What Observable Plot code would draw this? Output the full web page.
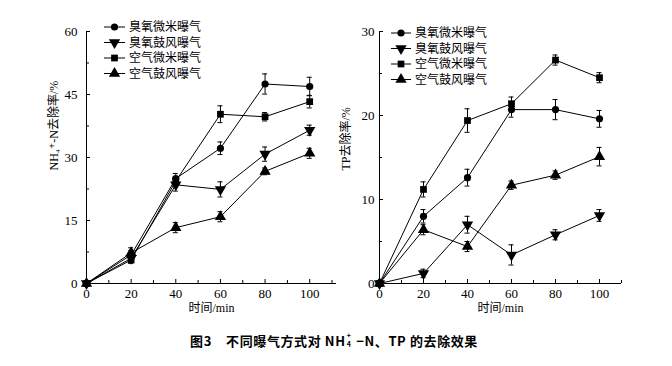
<!DOCTYPE html>
<html><head><meta charset="utf-8">
<script src="https://cdn.jsdelivr.net/npm/d3@7"></script>
<script src="https://cdn.jsdelivr.net/npm/@observablehq/plot@0.6"></script>
<style>
html,body{margin:0;padding:0;background:#fff;}
#wrap{position:relative;width:672px;height:366px;overflow:hidden;}
#charts{display:flex;position:absolute;left:0;top:0;}
#overlay{position:absolute;left:0;top:0;pointer-events:none;}
#caption{position:absolute;left:0;top:331px;width:668px;text-align:center;font-family:"Noto Sans CJK SC","Liberation Sans",sans-serif;font-weight:bold;font-size:13px;letter-spacing:0.6px;color:#000;white-space:pre;}
.ion{display:inline-block;position:relative;width:7px;height:10px;}
.ion .sp{position:absolute;left:1px;top:-4px;font-size:7px;line-height:7px;}
.ion .sb{position:absolute;left:1px;top:5px;font-size:7px;line-height:7px;}
</style>
</head><body>
<div id="wrap">
  <div id="charts"></div>
  <svg id="overlay" width="672" height="366"></svg>
  <div id="caption">图3    不同曝气方式对 NH<span class="ion"><span class="sp">+</span><span class="sb">4</span></span> −N、TP 的去除效果</div>
</div>
<script>
// ---------- data ----------
const times = [0, 20, 40, 60, 80, 100];
const seriesNames = ["臭氧微米曝气", "臭氧鼓风曝气", "空气微米曝气", "空气鼓风曝气"];

// NH4+-N removal (%)
const nh4OzoneMicro    = [0, 6.8, 25.0, 32.2, 47.5, 46.9];
const nh4OzoneMicroErr = [0, 1.0, 1.2, 1.5, 2.4, 2.2];
const nh4OzoneBlow     = [0, 6.0, 23.5, 22.4, 30.8, 36.5];
const nh4OzoneBlowErr  = [0, 0.8, 1.5, 1.8, 1.7, 1.2];
const nh4AirMicro      = [0, 5.6, 24.4, 40.3, 39.7, 43.3];
const nh4AirMicroErr   = [0, 0.8, 1.0, 2.0, 1.0, 1.5];
const nh4AirBlow       = [0, 7.3, 13.3, 15.9, 26.7, 31.0];
const nh4AirBlowErr    = [0, 1.2, 1.2, 1.2, 0.8, 1.2];

// TP removal (%)
const tpOzoneMicro    = [0, 8.0, 12.6, 20.7, 20.7, 19.6];
const tpOzoneMicroErr = [0, 0.8, 1.0, 0.9, 1.2, 1.0];
const tpOzoneBlow     = [0, 1.2, 7.0, 3.4, 5.8, 8.1];
const tpOzoneBlowErr  = [0, 0.5, 1.0, 1.2, 0.6, 0.7];
const tpAirMicro      = [0, 11.2, 19.4, 21.4, 26.6, 24.5];
const tpAirMicroErr   = [0, 0.9, 1.4, 0.8, 0.6, 0.6];
const tpAirBlow       = [0, 6.4, 4.4, 11.7, 12.9, 15.1];
const tpAirBlowErr    = [0, 0.6, 0.6, 0.5, 0.5, 1.1];

const xMajorTicks = [0, 20, 40, 60, 80, 100];
const xMinorTicks = [10, 30, 50, 70, 90, 110];
const nh4YTicks = [0, 15, 30, 45, 60];
const nh4YMinor = [7.5, 22.5, 37.5, 52.5];
const tpYTicks = [0, 10, 20, 30];
const tpYMinor = [5, 15, 25];

const xLabel = "时间/min";
const nh4YLabel = "NH₄⁺-N去除率/%";
const tpYLabel = "TP去除率/%";

// ---------- symbols ----------
const sqrt3 = Math.sqrt(3);
const triangleDown = {
  draw(ctx, size) {
    const y = -Math.sqrt(size / (sqrt3 * 3));
    ctx.moveTo(0, -y * 2);
    ctx.lineTo(-sqrt3 * y, y);
    ctx.lineTo(sqrt3 * y, y);
    ctx.closePath();
  }
};
const symbols = ["circle", triangleDown, "square", "triangle"];
const d3Symbols = [d3.symbolCircle, triangleDown, d3.symbolSquare, d3.symbolTriangle];
const radii = [3.6, 4.2, 3.8, 4.2];

function rows(vals, errs) {
  const out = [];
  vals.forEach((v, si) => v.forEach((y, i) => out.push({s: si, t: times[i], v: y, e: errs[si][i]})));
  return out;
}

function chart({data, width, mL, mR, yDomain, yTicks, yMinor, yPad, xDomain, yLabel, yLabelDx}) {
  const height = 325, mT = 31, mB = 42;
  const fw = width - mL - mR, fh = height - mT - mB;
  const withErr = data.filter(d => d.e > 0);
  const serif = "Liberation Serif, DejaVu Serif, Noto Sans CJK SC, serif";
  const marks = [
    Plot.ruleY([yDomain[0]], {stroke: "#000", strokeWidth: 1}),
    Plot.ruleX([xDomain[0]], {stroke: "#000", strokeWidth: 1}),
    Plot.ruleX(xMajorTicks, {x: d => d, insetTop: fh - 4, stroke: "#000"}),
    Plot.ruleX(xMinorTicks.filter(t => t <= xDomain[1]), {x: d => d, insetTop: fh - 3, stroke: "#000"}),
    Plot.ruleY(yTicks, {y: d => d, insetRight: fw - 4, stroke: "#000"}),
    Plot.ruleY(yMinor, {y: d => d, insetRight: fw - 3, stroke: "#000"}),
    Plot.line(data, {x: "t", y: "v", z: "s", stroke: "#000", strokeWidth: 1}),
    Plot.ruleX(withErr, {x: "t", y1: d => d.v - d.e, y2: d => d.v + d.e, stroke: "#000", strokeWidth: 1}),
    Plot.ruleY(withErr, {y: d => d.v - d.e, x1: "t", x2: "t", insetLeft: -2.5, insetRight: -2.5, stroke: "#000"}),
    Plot.ruleY(withErr, {y: d => d.v + d.e, x1: "t", x2: "t", insetLeft: -2.5, insetRight: -2.5, stroke: "#000"}),
    ...symbols.map((sym, si) => Plot.dot(data.filter(d => d.s === si), {x: "t", y: "v", r: radii[si], symbol: sym, fill: "#000", stroke: "none"})),
    Plot.text([yLabel], {frameAnchor: "left", dx: yLabelDx, dy: 13, rotate: -90, fontSize: 12, fontFamily: serif, fill: "#000"}),
    Plot.text([xLabel], {frameAnchor: "bottom", dy: 28, fontSize: 12, fontFamily: serif, fill: "#000"})
  ];
  return Plot.plot({
    width, height, marginLeft: mL, marginRight: mR, marginTop: mT, marginBottom: mB,
    style: {fontFamily: "Liberation Serif, Noto Sans CJK SC, serif", fontSize: "13px", color: "#000", background: "#fff"},
    x: {domain: xDomain, ticks: xMajorTicks, tickSize: 0, tickPadding: 5, label: null},
    y: {domain: yDomain, ticks: yTicks, tickSize: 0, tickPadding: yPad, label: null},
    marks
  });
}

const nh4Data = rows([nh4OzoneMicro, nh4OzoneBlow, nh4AirMicro, nh4AirBlow],
                     [nh4OzoneMicroErr, nh4OzoneBlowErr, nh4AirMicroErr, nh4AirBlowErr]);
const tpData = rows([tpOzoneMicro, tpOzoneBlow, tpAirMicro, tpAirBlow],
                    [tpOzoneMicroErr, tpOzoneBlowErr, tpAirMicroErr, tpAirBlowErr]);

const charts = document.getElementById("charts");
charts.append(chart({data: nh4Data, width: 336, mL: 86, mR: 0, yDomain: [0, 60], yTicks: nh4YTicks, yMinor: nh4YMinor,
  yPad: 9, xDomain: [0, 112], yLabel: nh4YLabel, yLabelDx: -32}));
charts.append(chart({data: tpData, width: 336, mL: 43, mR: 51, yDomain: [0, 30], yTicks: tpYTicks, yMinor: tpYMinor,
  yPad: 5, xDomain: [0, 110], yLabel: tpYLabel, yLabelDx: -33}));

// ---------- legends ----------
const overlay = d3.select("#overlay");
function legend(x0, x1, tx, ys) {
  seriesNames.forEach((name, i) => {
    const g = overlay.append("g");
    g.append("line").attr("x1", x0).attr("x2", x1).attr("y1", ys[i]).attr("y2", ys[i]).attr("stroke", "#000");
    g.append("path").attr("transform", `translate(${(x0 + x1) / 2},${ys[i]})`)
      .attr("d", d3.symbol(d3Symbols[i], Math.PI * radii[i] * radii[i])()).attr("fill", "#000");
    g.append("text").attr("x", tx).attr("y", ys[i]).attr("dy", "0.36em")
      .attr("font-family", "Noto Sans CJK SC, sans-serif").attr("font-size", 12).attr("fill", "#000").text(name);
  });
}
legend(104, 125, 129, [27, 42.5, 58, 73.5]);
legend(391, 411, 415, [33, 48.5, 64, 79.5]);
</script>
</body></html>
